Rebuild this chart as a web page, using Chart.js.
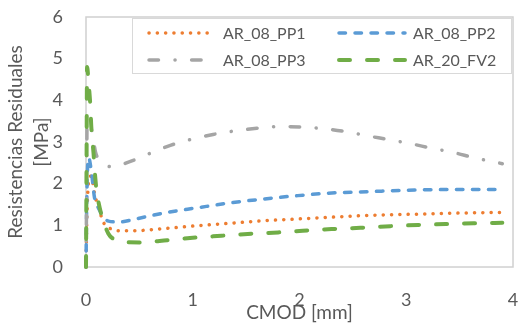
<!DOCTYPE html>
<html>
<head>
<meta charset="utf-8">
<script src="https://cdn.jsdelivr.net/npm/chart.js@4.4.1/dist/chart.umd.min.js"></script>
<style>
  html, body { margin: 0; padding: 0; background: #ffffff; }
  #wrap { width: 518px; height: 324px; position: relative; }
</style>
</head>
<body>
<div id="wrap"><canvas id="trendChart"></canvas></div>
<script>
// CMOD [mm] and residual strength [MPa]
const pp1X = [0, 0.005, 0.015, 0.03, 0.05, 0.08, 0.12, 0.17, 0.24, 0.31, 0.44, 0.72, 1.04, 1.35, 1.66, 1.97, 2.26, 2.66, 3.13, 3.6, 3.9];
const pp1Y = [0, 0.8, 1.7, 2.12, 2.18, 1.76, 1.4, 1.04, 0.91, 0.87, 0.87, 0.92, 0.99, 1.05, 1.11, 1.15, 1.19, 1.24, 1.27, 1.3, 1.31];

const pp2X = [0, 0.005, 0.015, 0.025, 0.05, 0.08, 0.12, 0.16, 0.21, 0.31, 0.46, 0.74, 1.04, 1.35, 1.66, 1.97, 2.26, 2.66, 3.13, 3.6, 3.9];
const pp2Y = [0, 1.2, 2.4, 2.62, 2.3, 1.66, 1.4, 1.22, 1.1, 1.08, 1.15, 1.3, 1.42, 1.54, 1.63, 1.71, 1.77, 1.81, 1.85, 1.86, 1.86];

const pp3X = [0, 0.005, 0.01, 0.03, 0.06, 0.09, 0.17, 0.25, 0.41, 0.79, 1.19, 1.6, 1.82, 2.02, 2.26, 2.43, 2.63, 2.83, 3.04, 3.24, 3.44, 3.64, 3.9];
const pp3Y = [0, 1.5, 3.45, 3.45, 3.2, 2.75, 2.48, 2.4, 2.53, 2.92, 3.18, 3.33, 3.37, 3.36, 3.31, 3.25, 3.15, 3.06, 2.96, 2.85, 2.75, 2.62, 2.48];

const fv2X = [0, 0.005, 0.01, 0.025, 0.04, 0.05, 0.07, 0.085, 0.1, 0.12, 0.15, 0.21, 0.26, 0.35, 0.5, 0.76, 1.0, 1.27, 1.55, 1.8, 2.03, 2.3, 2.57, 2.85, 3.11, 3.37, 3.63, 3.9];
const fv2Y = [0, 2.4, 4.8, 4.4, 3.9, 3.35, 2.75, 2.2, 1.8, 1.52, 1.2, 0.8, 0.67, 0.6, 0.59, 0.64, 0.7, 0.75, 0.8, 0.83, 0.87, 0.91, 0.94, 0.98, 1.01, 1.03, 1.05, 1.06];

const seriesNames = ['AR_08_PP1', 'AR_08_PP2', 'AR_08_PP3', 'AR_20_FV2'];
const xTicks = [0, 1, 2, 3, 4];
const yTicks = [0, 1, 2, 3, 4, 5, 6];
const xTitle = 'CMOD [mm]';
const yTitle = ['Resistencias Residuales', '[MPa]'];

const FONT = 'Lato, "Open Sans", sans-serif';
const TEXT = '#595959';

function pts(xs, ys) {
    let out = [];
    for (let i = 0; i < xs.length; i++) {
        out.push({ x: xs[i], y: ys[i] });
    }
    return out;
}

let sets = [];

sets.push({
    label: seriesNames[0],
    data: pts(pp1X, pp1Y),
    borderColor: '#ED7D31',
    borderWidth: 3.5,
    borderDash: [0.1, 8.2],
    borderCapStyle: 'round',
    order: 3
});

sets.push({
    label: seriesNames[1],
    data: pts(pp2X, pp2Y),
    borderColor: '#5B9BD5',
    borderWidth: 3.5,
    borderDash: [6.5, 9.5],
    borderCapStyle: 'round',
    order: 2
});

sets.push({
    label: seriesNames[2],
    data: pts(pp3X, pp3Y),
    borderColor: '#A5A5A5',
    borderWidth: 3.5,
    borderDash: [9.5, 16.5, 0.1, 16.5],
    borderCapStyle: 'round',
    order: 1
});

sets.push({
    label: seriesNames[3],
    data: pts(fv2X, fv2Y),
    borderColor: '#70AD47',
    borderWidth: 4,
    borderDash: [11, 17],
    borderCapStyle: 'round',
    order: 0
});

sets.forEach(function (s) {
    s.showLine = true;
    s.fill = false;
    s.pointRadius = 0;
    s.pointHoverRadius = 0;
    s.cubicInterpolationMode = 'monotone';
    s.clip = false;
});

// frame round the plot area
const framePlugin = {
    id: 'plot_frame',
    beforeDatasetsDraw: (chart) => {
        const a = chart.chartArea;
        const ctx = chart.ctx;
        ctx.save();
        ctx.strokeStyle = '#D0D0D0';
        ctx.lineWidth = 1.5;
        ctx.strokeRect(a.left, a.top, a.right - a.left, a.bottom - a.top);
        ctx.restore();
    }
};

// two column legend box inside the plot
const legendPlugin = {
    id: 'box_legend',
    afterDatasetsDraw: (chart) => {
        const ctx = chart.ctx;
        ctx.save();
        ctx.fillStyle = '#ffffff';
        ctx.strokeStyle = '#D9D9D9';
        ctx.lineWidth = 1;
        ctx.fillRect(132.5, 18.5, 379, 55);
        ctx.strokeRect(132.5, 18.5, 379, 55);

        const cols = [147, 337];
        const rows = [33, 60];
        chart.data.datasets.forEach(function (ds, i) {
            const x = cols[i % 2];
            const y = rows[Math.floor(i / 2)];
            ctx.beginPath();
            ctx.strokeStyle = ds.borderColor;
            ctx.lineWidth = ds.borderWidth;
            ctx.lineCap = ds.borderCapStyle;
            ctx.setLineDash(ds.borderDash);
            ctx.lineDashOffset = 0;
            ctx.moveTo(x + 2, y);
            ctx.lineTo(x + 68, y);
            ctx.stroke();
            ctx.setLineDash([]);
            ctx.fillStyle = TEXT;
            ctx.font = '16px ' + FONT;
            ctx.textBaseline = 'middle';
            ctx.textAlign = 'left';
            ctx.fillText(ds.label, x + 76, y + 1);
        });
        ctx.restore();
    }
};

function noPad(scale) {
    scale.paddingTop = 0;
    scale.paddingBottom = 0;
    scale.paddingLeft = 0;
    scale.paddingRight = 0;
}

const options = {
    responsive: true,
    maintainAspectRatio: false,
    animation: false,
    layout: {
        padding: { top: 17, right: 5, left: 0, bottom: 0 }
    },
    plugins: {
        legend: { display: false },
        tooltip: { enabled: false }
    },
    scales: {
        x: {
            type: 'linear',
            min: 0,
            max: 4,
            afterBuildTicks: (scale) => {
                scale.ticks = xTicks.map(v => ({ value: v }));
            },
            afterFit: (scale) => { scale.height = 57; noPad(scale); },
            grid: { display: false, drawTicks: false },
            border: { display: false },
            ticks: {
                padding: 22,
                color: TEXT,
                font: { family: FONT, size: 18 }
            },
            title: {
                display: true,
                text: xTitle,
                color: TEXT,
                font: { family: FONT, size: 19 },
                padding: { top: 0, bottom: 0 }
            }
        },
        y: {
            type: 'linear',
            min: 0,
            max: 6,
            afterBuildTicks: (scale) => {
                scale.ticks = yTicks.map(v => ({ value: v }));
            },
            afterFit: (scale) => { scale.width = 86; noPad(scale); },
            grid: { display: false, drawTicks: false },
            border: { display: false },
            ticks: {
                padding: 23,
                color: TEXT,
                font: { family: FONT, size: 18 }
            },
            title: {
                display: true,
                text: yTitle,
                color: TEXT,
                font: { family: FONT, size: 19, lineHeight: 1.35 },
                padding: { top: 3, bottom: 0 }
            }
        }
    }
};

const ctx = document.getElementById('trendChart');
var myChart = new Chart(ctx, {
    type: 'scatter',
    data: { datasets: sets },
    options: options,
    plugins: [framePlugin, legendPlugin]
});
</script>
</body>
</html>
